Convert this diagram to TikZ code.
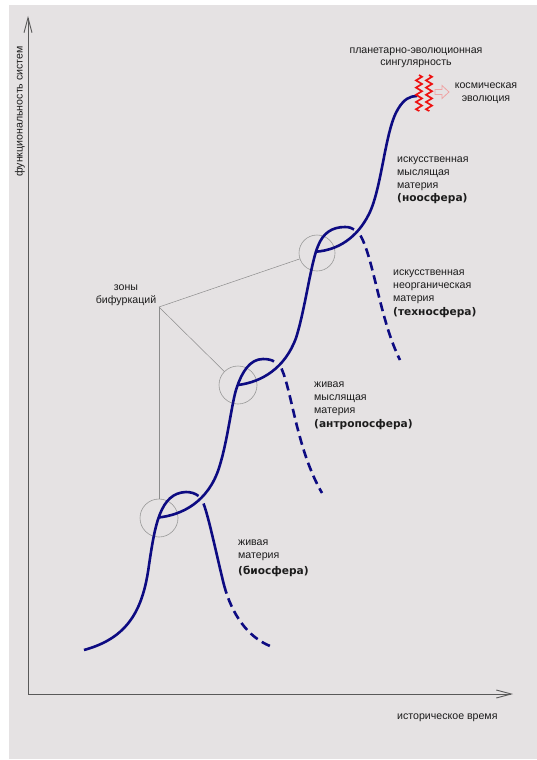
\documentclass[tikz,border=0pt]{standalone}
\usepackage{fontspec}
\setmainfont{Liberation Sans}
\newfontfamily\heavyfont{DejaVu Sans}
\newcommand{\spherename}[1]{{\heavyfont\bfseries #1}}
\usetikzlibrary{arrows.meta,decorations.pathmorphing}

\definecolor{paper}{HTML}{E5E2E3}
\definecolor{curveblue}{HTML}{0D0B82}
\definecolor{ink}{HTML}{1C1C1C}
\definecolor{flame}{HTML}{EE1111}
\definecolor{rose}{HTML}{EFA3A3}

\begin{document}
\begin{tikzpicture}[x=1pt, y=-1pt,
        axis/.style={draw=black!65, line width=0.9pt, -{Straight Barb[length=15pt,width=8pt]}},
        solidcurve/.style={draw=curveblue, line width=2.6pt},
        dashcurve/.style={solidcurve, dash pattern=on 9pt off 5pt},
        bifring/.style={draw=black!40, line width=0.6pt, circle, minimum size=38pt, inner sep=0pt},
        bifline/.style={draw=black!45, line width=0.5pt},
        flamezig/.style={draw=flame, line width=1.7pt, decorate, decoration={zigzag, segment length=7.2pt, amplitude=3pt}},
        txt/.style={font=\fontsize{10.6}{13}\selectfont, text=ink, inner sep=0pt, align=left, anchor=base west}]
        % Paper
        \fill[white] (0,0) rectangle (537,760);
        \fill[paper] (9,5) rectangle (537,759);
        \useasboundingbox (0,0) rectangle (537,760);

        % Axes
        \coordinate (Origin) at (28,694);
        \coordinate (YEnd) at (28,16);
        \coordinate (XEnd) at (513,694);
        \draw[axis] (Origin) -- (YEnd);
        \draw[axis] (Origin) -- (XEnd);
        \node[txt, rotate=90, anchor=base] (YLabel) at (22.7,111.5) {функциональность систем};
        \node[txt] (XLabel) at (397,719.7) {историческое время};

        % Bifurcation zones (multi-line nodes: placed by the baseline of their last line)
        \node[bifring] (Bif1) at (159,518) {};
        \node[bifring] (Bif2) at (238,385) {};
        \node[bifring, minimum size=36pt] (Bif3) at (317,253) {};
        \coordinate (Fork) at (159,307);
        \draw[bifline] (Fork) -- (Bif1);
        \draw[bifline] (Fork) -- (Bif2);
        \draw[bifline] (Fork) -- (Bif3);
        \node[txt, align=center, anchor=base] (Zones) at (126,303.4) {зоны\\бифуркаций};

        % Biosphere
        \draw[solidcurve] (84,650) .. controls (128,638) and (143,610) .. (149,565)
            .. controls (155,525) and (160,493) .. (186,492)
            .. controls (191,492) and (195.5,493.5) .. (198.5,496);
        \draw[solidcurve] (203.5,503.5) .. controls (209,518) and (217,557) .. (224,585);
        \draw[dashcurve] (224,585) .. controls (232,615) and (248,637) .. (270,646);
        \node[txt] (Biosphere) at (238,574.4) {живая\\материя\\[3pt]\spherename{(биосфера)}};

        % Anthroposphere
        \draw[solidcurve] (158.5,517.5) .. controls (182,515) and (208,502) .. (219,468)
            .. controls (228,440) and (232,400) .. (237,387)
            .. controls (242,372) and (250,359) .. (263,359)
            .. controls (268,359) and (272,360) .. (274,361.5);
        \draw[dashcurve] (281.5,368.5) .. controls (292,392) and (297,450) .. (322,493);
        \node[txt] (Anthroposphere) at (314,427.7) {живая\\мыслящая\\материя\\[1pt]\spherename{(антропосфера)}};

        % Technosphere
        \draw[solidcurve] (238,385) .. controls (262,382) and (285,368) .. (296,338)
            .. controls (305,310) and (311,262) .. (318,246)
            .. controls (323,233) and (332,227) .. (345,227)
            .. controls (349,227) and (352,228) .. (354,229.5);
        \draw[dashcurve] (360.5,235.5) .. controls (374,260) and (380,320) .. (400,360);
        \node[txt] (Technosphere) at (393,315) {искусственная\\неорганическая\\материя\\[1pt]\spherename{(техносфера)}};

        % Noosphere
        \draw[solidcurve] (316,251.7) .. controls (338,250) and (357,238) .. (369,214)
            .. controls (382,188) and (385,130) .. (398,109)
            .. controls (404,99) and (410,96) .. (417,96);
        \node[txt] (Noosphere) at (397,201) {искусственная\\мыслящая\\материя\\\spherename{(ноосфера)}};

        % Singularity
        \draw[flamezig] (419,75) -- (419,111);
        \draw[flamezig] (429,75) -- (429,111);
        \draw[rose, line width=0.8pt] (435,89.5) -- (442,89.5) -- (442,85.5) -- (449,92) -- (442,98.5) -- (442,94.5) -- (435,94.5) -- cycle;
        \node[txt, align=center, anchor=base] (Singularity) at (416,66) {планетарно-эволюционная\\[-1pt]сингулярность};
        \node[txt, align=center, anchor=base] (Cosmic) at (486,101.7) {космическая\\эволюция};
\end{tikzpicture}
\end{document}
